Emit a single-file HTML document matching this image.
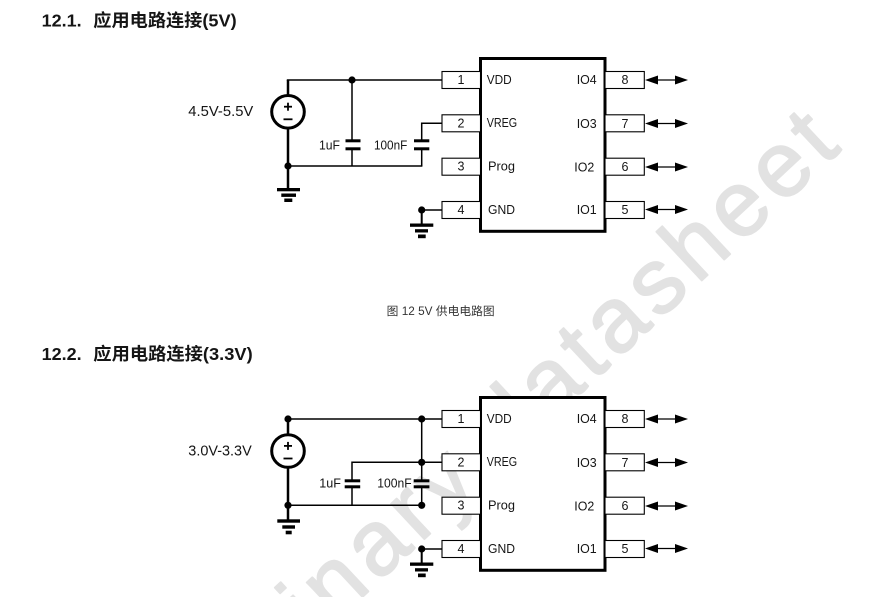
<!DOCTYPE html>
<html>
<head>
<meta charset="utf-8">
<style>
  html,body{margin:0;padding:0;background:#fff;}
  body{width:887px;height:597px;overflow:hidden;}
  .wrap{width:887px;height:597px;overflow:hidden;position:relative;}
  svg{display:block;}
  text{font-family:"Liberation Sans","Noto Sans CJK SC",sans-serif;fill:#151515;}
</style>
</head>
<body>
<div class="wrap">
<svg width="887" height="597" viewBox="0 0 887 597" xmlns="http://www.w3.org/2000/svg" overflow="hidden">
  <defs>
    <clipPath id="frame"><rect x="0" y="0" width="887" height="597"/></clipPath>
  </defs>
  <rect x="0" y="0" width="887" height="597" fill="#fff"/>

  <!-- watermark -->
  <g clip-path="url(#frame)">
    <text transform="translate(104,838) rotate(-43)" font-size="92" letter-spacing="6.5" style="fill:#e2e2e2;stroke:#e2e2e2;stroke-width:1.8;stroke-linejoin:round">preliminary datasheet</text>
  </g>

  <!-- headings -->
  <text x="41.7" y="26.7" font-size="17.5" font-weight="bold" textLength="40" lengthAdjust="spacingAndGlyphs">12.1.</text>
  <text x="93.3" y="26.7" font-size="17.5" font-weight="bold" textLength="143.4" lengthAdjust="spacingAndGlyphs">应用电路连接(5V)</text>
  <text x="41.7" y="360" font-size="17.5" font-weight="bold" textLength="40" lengthAdjust="spacingAndGlyphs">12.2.</text>
  <text x="93.3" y="360" font-size="17.5" font-weight="bold" textLength="159.4" lengthAdjust="spacingAndGlyphs">应用电路连接(3.3V)</text>

  <!-- caption -->
  <text x="386.7" y="315" font-size="11.5" textLength="108" lengthAdjust="spacingAndGlyphs" style="fill:#333">图 12 5V 供电电路图</text>

  <!-- ===== common chip group (top) ===== -->
  <g id="chip">
    <rect x="480.5" y="58.5" width="124.5" height="172.8" fill="#fff" stroke="#000" stroke-width="3"/>
    <g fill="#fff" stroke="#000" stroke-width="1.1">
      <rect x="442" y="71.5" width="38.5" height="17"/>
      <rect x="442" y="114.8" width="38.5" height="17"/>
      <rect x="442" y="158.2" width="38.5" height="17"/>
      <rect x="442" y="201.5" width="38.5" height="17"/>
      <rect x="605" y="71.5" width="39.3" height="17"/>
      <rect x="605" y="114.8" width="39.3" height="17"/>
      <rect x="605" y="158.2" width="39.3" height="17"/>
      <rect x="605" y="201.5" width="39.3" height="17"/>
    </g>
    <g font-size="12.5" text-anchor="middle">
      <text x="461" y="84">1</text>
      <text x="461" y="127.3">2</text>
      <text x="461" y="170.7">3</text>
      <text x="461" y="214">4</text>
      <text x="625" y="84">8</text>
      <text x="625" y="127.8">7</text>
      <text x="625" y="171.2">6</text>
      <text x="625" y="214">5</text>
    </g>
    <g font-size="12.5">
      <text x="486.7" y="84" textLength="25" lengthAdjust="spacingAndGlyphs">VDD</text>
      <text x="486.7" y="127" textLength="30.5" lengthAdjust="spacingAndGlyphs">VREG</text>
      <text x="488" y="170.5" textLength="27" lengthAdjust="spacingAndGlyphs">Prog</text>
      <text x="488" y="214" textLength="27" lengthAdjust="spacingAndGlyphs">GND</text>
      <text x="576.7" y="84" textLength="20" lengthAdjust="spacingAndGlyphs">IO4</text>
      <text x="576.7" y="128" textLength="20" lengthAdjust="spacingAndGlyphs">IO3</text>
      <text x="574.3" y="171.5" textLength="20" lengthAdjust="spacingAndGlyphs">IO2</text>
      <text x="576.7" y="214" textLength="20" lengthAdjust="spacingAndGlyphs">IO1</text>
    </g>
    <g stroke="#000" stroke-width="1.2">
      <line x1="650" y1="80" x2="682" y2="80"/>
      <line x1="650" y1="123.5" x2="682" y2="123.5"/>
      <line x1="650" y1="167" x2="682" y2="167"/>
      <line x1="650" y1="209.5" x2="682" y2="209.5"/>
    </g>
    <g fill="#000">
      <polygon points="645,80 658,75.5 658,84.5"/>
      <polygon points="688,80 675,75.5 675,84.5"/>
      <polygon points="645,123.5 658,119 658,128"/>
      <polygon points="688,123.5 675,119 675,128"/>
      <polygon points="645,167 658,162.5 658,171.5"/>
      <polygon points="688,167 675,162.5 675,171.5"/>
      <polygon points="645,209.5 658,205 658,214"/>
      <polygon points="688,209.5 675,205 675,214"/>
    </g>
    <line x1="421.7" y1="210" x2="442" y2="210" stroke="#000" stroke-width="1.5"/>
    <line x1="421.7" y1="210" x2="421.7" y2="224" stroke="#000" stroke-width="2"/>
    <circle cx="421.7" cy="210" r="3.6" fill="#000"/>
    <rect x="410" y="223.5" width="23.3" height="3.3" fill="#000"/>
    <rect x="415" y="229.2" width="13" height="3.3" fill="#000"/>
    <rect x="418" y="234.5" width="7.7" height="3.7" fill="#000"/>
  </g>

  <use href="#chip" transform="translate(0,339)"/>

  <!-- ===== top wiring ===== -->
  <g stroke="#000" fill="none">
    <line x1="288" y1="80" x2="288" y2="95.5" stroke-width="2.5"/>
    <line x1="286.8" y1="80" x2="442" y2="80" stroke-width="1.5"/>
    <circle cx="288" cy="111.8" r="16.3" stroke-width="3" fill="#fff"/>
    <line x1="284" y1="106.7" x2="292" y2="106.7" stroke-width="1.8"/>
    <line x1="288" y1="102.7" x2="288" y2="110.7" stroke-width="1.8"/>
    <line x1="283.5" y1="119.3" x2="292.5" y2="119.3" stroke-width="1.8"/>
    <line x1="288" y1="128" x2="288" y2="188.5" stroke-width="2.5"/>
    <line x1="352" y1="80" x2="352" y2="140" stroke-width="1.5"/>
    <line x1="352" y1="149" x2="352" y2="166" stroke-width="1.5"/>
    <polyline points="442,123.3 421.7,123.3 421.7,140" stroke-width="1.5"/>
    <line x1="421.7" y1="149" x2="421.7" y2="166" stroke-width="1.5"/>
    <line x1="288" y1="166" x2="422.4" y2="166" stroke-width="1.5"/>
  </g>
  <g fill="#000">
    <circle cx="352" cy="80" r="3.6"/>
    <circle cx="288" cy="166" r="3.6"/>
    <rect x="345.5" y="139.3" width="15" height="3"/>
    <rect x="345.5" y="147.3" width="15" height="3"/>
    <rect x="414" y="139.3" width="15.3" height="3"/>
    <rect x="414" y="147.3" width="15.3" height="3"/>
    <rect x="277" y="188" width="23" height="3.3"/>
    <rect x="281.3" y="193.5" width="14.7" height="3.4"/>
    <rect x="284.3" y="198.5" width="8" height="3.5"/>
  </g>
  <text x="188.3" y="116" font-size="14.5" textLength="65" lengthAdjust="spacingAndGlyphs">4.5V-5.5V</text>
  <text x="319" y="149.3" font-size="12.5" textLength="21" lengthAdjust="spacingAndGlyphs">1uF</text>
  <text x="374" y="149.3" font-size="12.5" textLength="33.3" lengthAdjust="spacingAndGlyphs">100nF</text>

  <!-- ===== bottom wiring ===== -->
  <g stroke="#000" fill="none">
    <line x1="288" y1="419" x2="288" y2="435" stroke-width="2.5"/>
    <line x1="288" y1="419" x2="442" y2="419" stroke-width="1.5"/>
    <circle cx="288" cy="451" r="16.3" stroke-width="3" fill="#fff"/>
    <line x1="284" y1="445.9" x2="292" y2="445.9" stroke-width="1.8"/>
    <line x1="288" y1="441.9" x2="288" y2="449.9" stroke-width="1.8"/>
    <line x1="283.5" y1="458.5" x2="292.5" y2="458.5" stroke-width="1.8"/>
    <line x1="288" y1="467" x2="288" y2="520" stroke-width="2.5"/>
    <line x1="421.7" y1="419" x2="421.7" y2="480" stroke-width="1.5"/>
    <line x1="421.7" y1="487" x2="421.7" y2="505.3" stroke-width="1.5"/>
    <polyline points="442,462.3 352,462.3 352,480" stroke-width="1.5"/>
    <line x1="352" y1="487" x2="352" y2="505.3" stroke-width="1.5"/>
    <line x1="288" y1="505.3" x2="421.7" y2="505.3" stroke-width="1.5"/>
  </g>
  <g fill="#000">
    <circle cx="288" cy="419" r="3.6"/>
    <circle cx="421.7" cy="419" r="3.6"/>
    <circle cx="421.7" cy="462.3" r="3.6"/>
    <circle cx="288" cy="505.3" r="3.6"/>
    <circle cx="421.7" cy="505.3" r="3.6"/>
    <rect x="344.7" y="479.3" width="15.5" height="3"/>
    <rect x="344.7" y="485.3" width="15.5" height="3"/>
    <rect x="413.7" y="479.3" width="15.7" height="3"/>
    <rect x="413.7" y="485.3" width="15.7" height="3"/>
    <rect x="277.3" y="519.3" width="22.7" height="3.4"/>
    <rect x="282.3" y="525.3" width="12.7" height="3.4"/>
    <rect x="285.7" y="530.7" width="6" height="3.6"/>
  </g>
  <text x="188.3" y="455.5" font-size="14.5" textLength="63.4" lengthAdjust="spacingAndGlyphs">3.0V-3.3V</text>
  <text x="319.3" y="487.7" font-size="12.5" textLength="21.7" lengthAdjust="spacingAndGlyphs">1uF</text>
  <text x="377.3" y="487.7" font-size="12.5" textLength="34.4" lengthAdjust="spacingAndGlyphs">100nF</text>
</svg>
</div>
</body>
</html>
